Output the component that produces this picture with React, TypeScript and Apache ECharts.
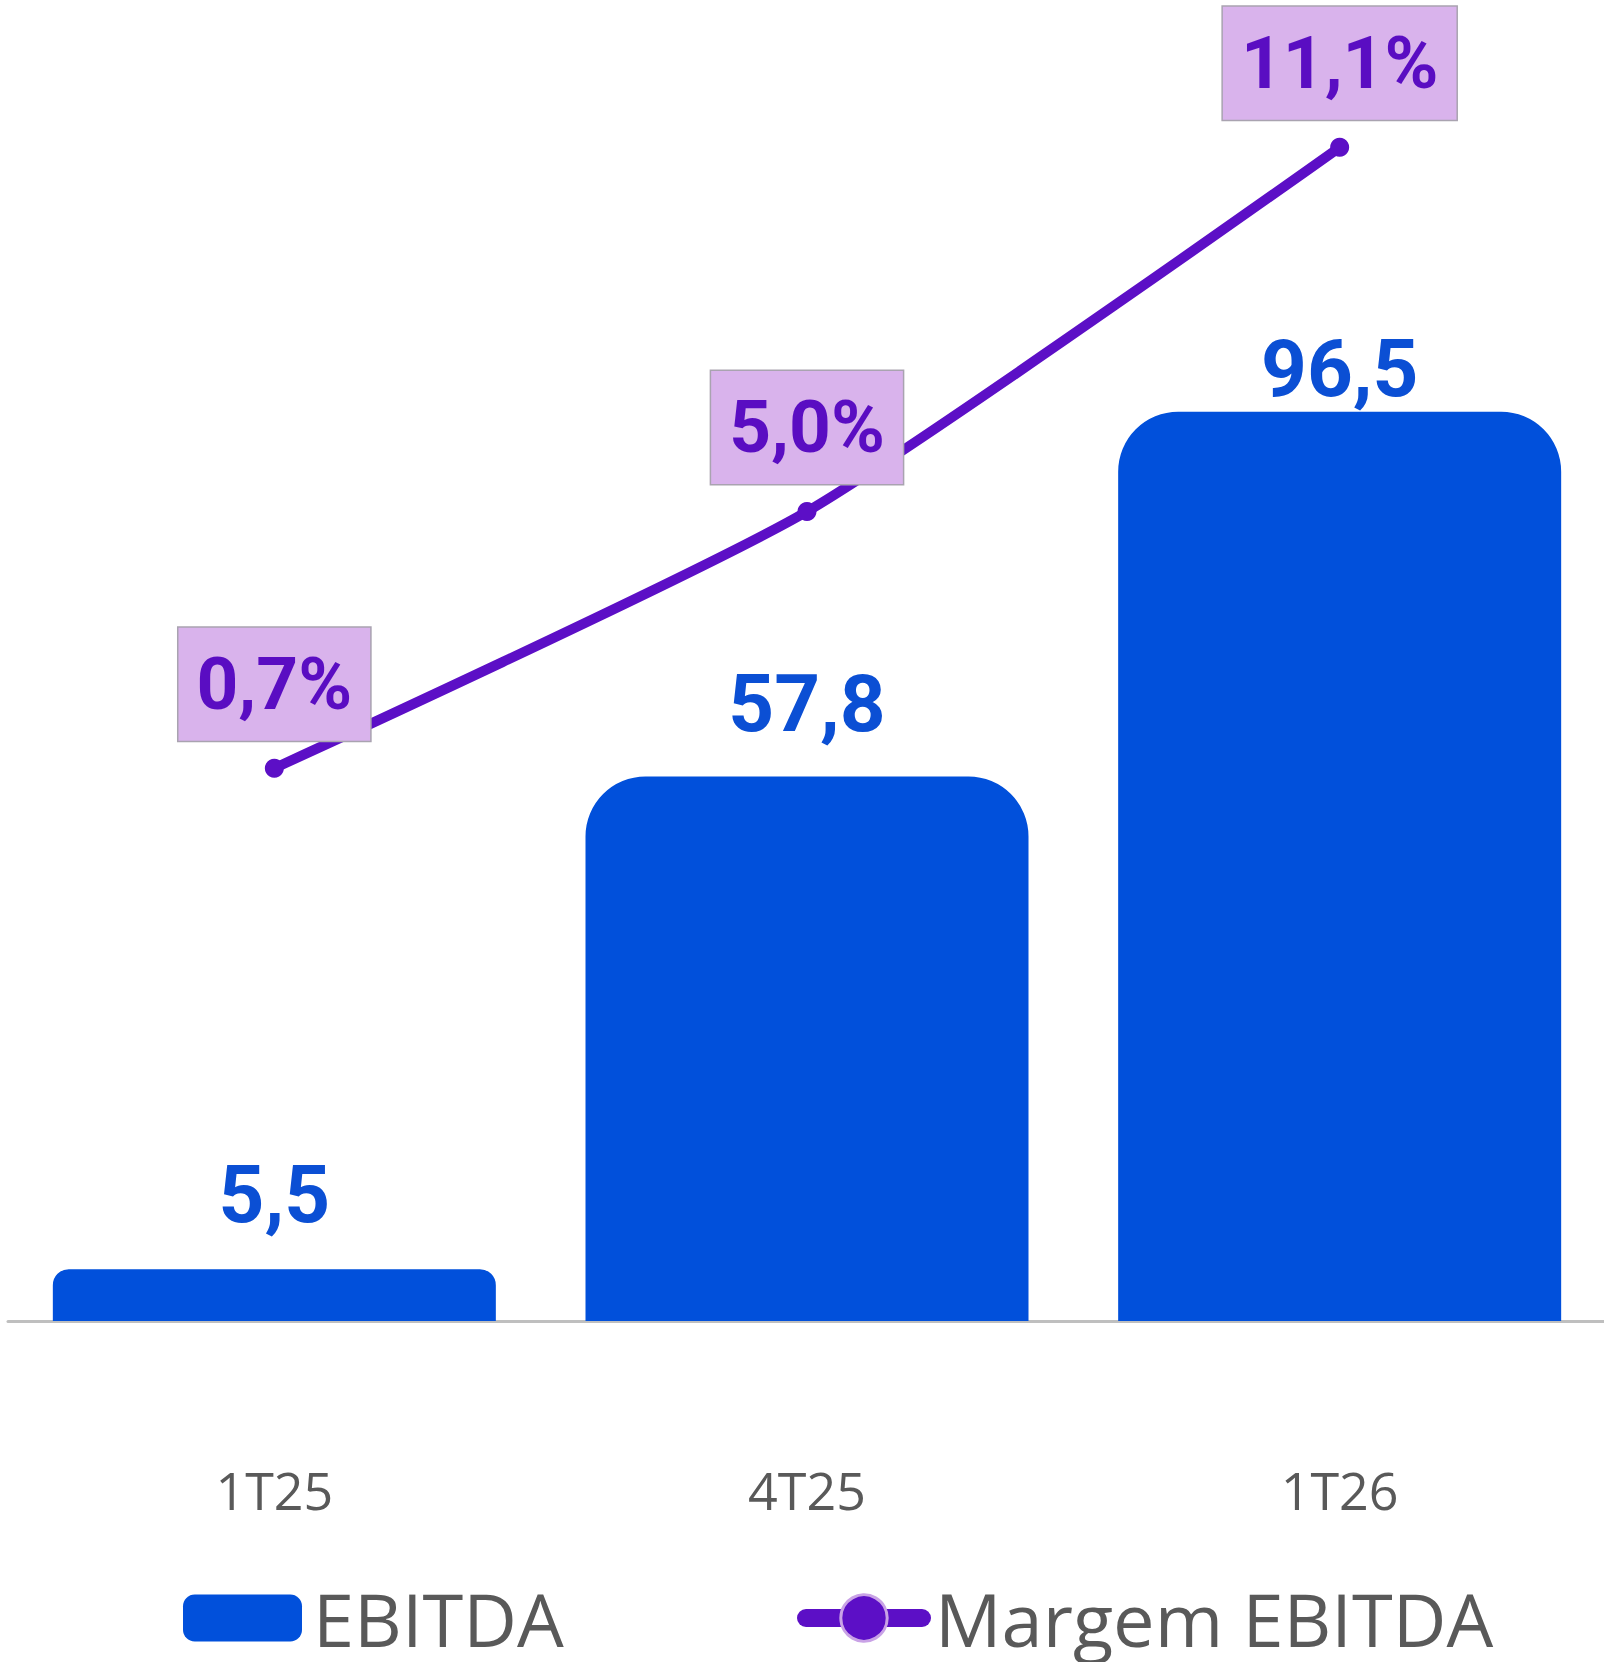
import React, { useEffect, useRef } from 'react';
import * as echarts from 'echarts';

// ---- Data ----
const categories = ['1T25', '4T25', '1T26'];
const ebitdaValues = [5.5, 57.8, 96.5];
const margemValues = [0.7, 5.0, 11.1];
const seriesNames = ['EBITDA', 'Margem EBITDA'];

// ---- Styles ----
const BAR_COLOR = '#0150DB';
const BAR_LABEL_COLOR = '#0B4FD4';
const LINE_COLOR = '#5C0FC6';
const LINE_LABEL_COLOR = '#5A0DC2';
const LABEL_BG = '#D9B3EC';
const GRAY_TEXT = '#595959';
const barLabelDistances = [34, 32, 3];
const barRadii = [16, 60, 60];

const fmt = (v: number) => v.toFixed(1).replace('.', ',');

export default function App() {
  const ref = useRef<HTMLDivElement>(null);

  useEffect(() => {
    document.body.style.margin = '0';
    if (!ref.current) return;
    const chart = echarts.init(ref.current, null, { renderer: 'svg' });

    const legendText = (pad: number) => ({
      fontFamily: 'Open Sans',
      fontSize: 74,
      lineHeight: 74,
      color: GRAY_TEXT,
      padding: [0, 0, 0, pad],
    });

    const option: any = {
      animation: false,
      backgroundColor: '#ffffff',
      grid: {
        left: 8,
        right: -2,
        top: 0,
        bottom: 341,
        containLabel: false,
        outerBoundsMode: 'none',
      },
      legend: [
        {
          left: 183,
          top: 1581,
          padding: 0,
          itemWidth: 119,
          itemHeight: 47,
          data: [{ name: seriesNames[0], icon: 'roundRect' }],
          textStyle: legendText(6),
          selectedMode: false,
        },
        {
          left: 797,
          top: 1581,
          padding: 0,
          itemWidth: 116,
          itemHeight: 58,
          data: [
            {
              name: seriesNames[1],
              itemStyle: { color: LINE_COLOR, borderColor: '#C9A2E6', borderWidth: 3 },
              lineStyle: { color: LINE_COLOR, width: 18, cap: 'round' },
            },
          ],
          textStyle: legendText(8),
          selectedMode: false,
        },
      ],
      xAxis: {
        type: 'category',
        data: categories,
        axisLine: { show: true, lineStyle: { color: '#BFBFBF', width: 3 } },
        axisTick: { show: false },
        splitLine: { show: false },
        axisLabel: {
          margin: 142,
          fontFamily: 'Open Sans',
          fontSize: 52,
          lineHeight: 52,
          color: GRAY_TEXT,
        },
      },
      yAxis: [
        { type: 'value', min: 0, max: 140.2, show: false, splitLine: { show: false } },
        { type: 'value', min: -8.56, max: 13.568, show: false, splitLine: { show: false } },
      ],
      series: [
        {
          name: seriesNames[0],
          type: 'bar',
          yAxisIndex: 0,
          barWidth: 443,
          itemStyle: { color: BAR_COLOR },
          data: ebitdaValues.map((v, i) => ({
            value: v,
            itemStyle: { borderRadius: [barRadii[i], barRadii[i], 0, 0] },
            label: { distance: barLabelDistances[i] },
          })),
          label: {
            show: true,
            position: 'top',
            formatter: (p: any) => fmt(p.value),
            fontFamily: 'Roboto',
            fontWeight: 'bold',
            fontSize: 80,
            lineHeight: 80,
            color: BAR_LABEL_COLOR,
          },
        },
        {
          name: seriesNames[1],
          type: 'line',
          yAxisIndex: 1,
          data: margemValues,
          smooth: 0.2,
          symbol: 'circle',
          symbolSize: 19,
          lineStyle: { color: LINE_COLOR, width: 10, cap: 'round' },
          itemStyle: { color: LINE_COLOR },
          z: 3,
          label: {
            show: true,
            position: 'top',
            distance: 18,
            formatter: (p: any) => fmt(p.value) + '%',
            fontFamily: 'Roboto',
            fontWeight: 'bold',
            fontSize: 73,
            lineHeight: 73,
            color: LINE_LABEL_COLOR,
            backgroundColor: LABEL_BG,
            borderColor: '#A9A3B0',
            borderWidth: 1.5,
            padding: [20, 18, 20, 18],
          },
        },
      ],
    };

    chart.setOption(option);
    return () => chart.dispose();
  }, []);

  return <div ref={ref} style={{ width: 1604, height: 1662 }} />;
}
